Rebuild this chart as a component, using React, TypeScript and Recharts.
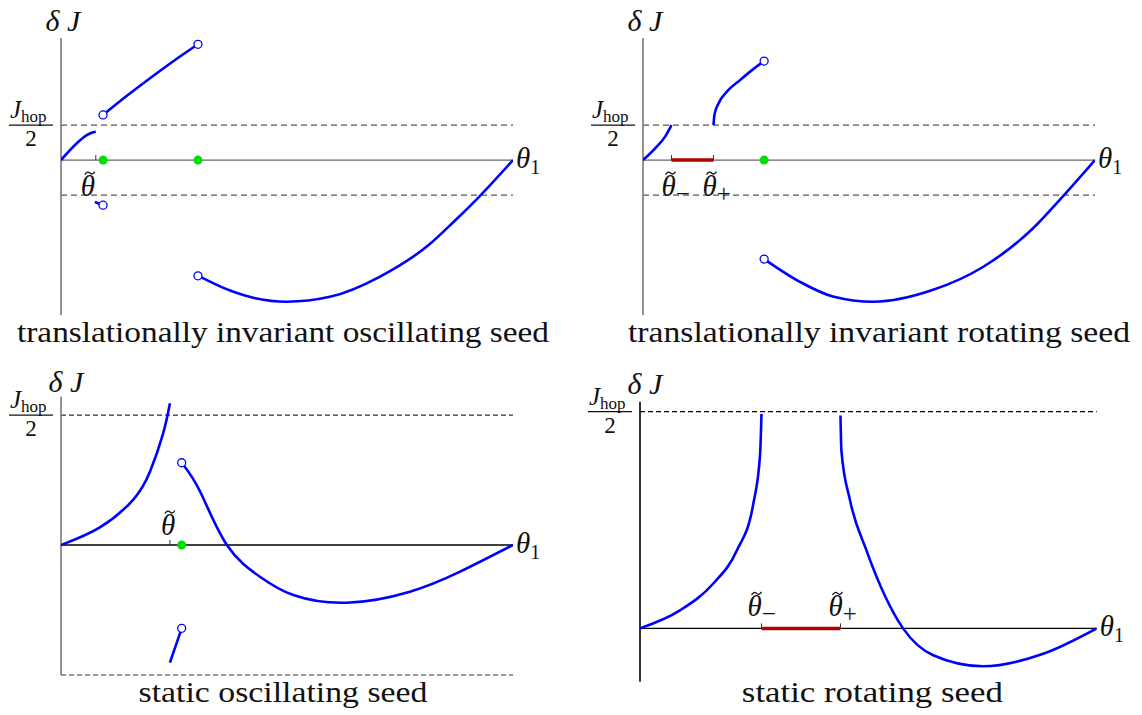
import React from "react";
import { LineChart, Line, XAxis, YAxis, ReferenceLine, ReferenceDot } from "recharts";

type Pt = { x: number; y: number };

// theta_1 runs 0..1 along each horizontal axis, dJ is measured in units of Jhop/2

// translationally invariant oscillating seed
const invOscRise: Pt[] = [
  { x: 0, y: 0 }, { x: 0.035, y: 0.48 }, { x: 0.057, y: 0.71 }, { x: 0.068, y: 0.78 }, { x: 0.077, y: 0.81 },
];
const invOscUpper: Pt[] = [
  { x: 0.093, y: 1.29 }, { x: 0.145, y: 1.83 }, { x: 0.197, y: 2.34 }, { x: 0.25, y: 2.84 }, { x: 0.303, y: 3.31 },
];
const invOscStub: Pt[] = [{ x: 0.075, y: -1.2 }, { x: 0.093, y: -1.29 }];
const invOscLower: Pt[] = [
  { x: 0.304, y: -3.31 }, { x: 0.374, y: -3.73 }, { x: 0.43, y: -3.95 }, { x: 0.499, y: -4.05 },
  { x: 0.595, y: -3.91 }, { x: 0.706, y: -3.33 }, { x: 0.816, y: -2.4 }, { x: 0.87, y: -1.75 },
  { x: 0.925, y: -1.05 }, { x: 1, y: 0 },
];
const invOscOpen: Pt[] = [
  { x: 0.093, y: 1.29 }, { x: 0.303, y: 3.31 }, { x: 0.093, y: -1.29 }, { x: 0.303, y: -3.31 },
];
const invOscFixed: Pt[] = [{ x: 0.093, y: 0 }, { x: 0.303, y: 0 }];
const invOscTilde = [0.077];

// translationally invariant rotating seed
const invRotRise: Pt[] = [{ x: 0, y: 0 }, { x: 0.03, y: 0.38 }, { x: 0.049, y: 0.67 }, { x: 0.063, y: 1.0 }];
const invRotUpper: Pt[] = [
  { x: 0.156, y: 1.0 }, { x: 0.158, y: 1.29 }, { x: 0.167, y: 1.62 }, { x: 0.185, y: 1.95 },
  { x: 0.215, y: 2.29 }, { x: 0.244, y: 2.6 }, { x: 0.268, y: 2.83 },
];
const invRotLower: Pt[] = [
  { x: 0.268, y: -2.83 }, { x: 0.347, y: -3.48 }, { x: 0.42, y: -3.9 }, { x: 0.51, y: -4.05 },
  { x: 0.642, y: -3.71 }, { x: 0.753, y: -3.05 }, { x: 0.863, y: -1.95 }, { x: 0.926, y: -1.08 }, { x: 1, y: 0 },
];
const invRotOpen: Pt[] = [{ x: 0.268, y: 2.83 }, { x: 0.268, y: -2.83 }];
const invRotFixed: Pt[] = [{ x: 0.268, y: 0 }];
const invRotGap = [0.063, 0.156];

// static oscillating seed
const statOscRise: Pt[] = [
  { x: 0, y: 0 }, { x: 0.086, y: 0.135 }, { x: 0.16, y: 0.35 }, { x: 0.197, y: 0.565 },
  { x: 0.226, y: 0.859 }, { x: 0.241, y: 1.09 },
];
const statOscUpper: Pt[] = [
  { x: 0.267, y: 0.633 }, { x: 0.308, y: 0.41 }, { x: 0.367, y: 0 }, { x: 0.44, y: -0.244 },
  { x: 0.514, y: -0.385 }, { x: 0.632, y: -0.444 }, { x: 0.772, y: -0.359 }, { x: 0.883, y: -0.205 }, { x: 1, y: 0 },
];
const statOscStub: Pt[] = [{ x: 0.241, y: -0.905 }, { x: 0.267, y: -0.641 }];
const statOscOpen: Pt[] = [{ x: 0.267, y: 0.633 }, { x: 0.267, y: -0.641 }];
const statOscFixed: Pt[] = [{ x: 0.267, y: 0 }];
const statOscTilde = [0.241];

// static rotating seed
const statRotRise: Pt[] = [
  { x: 0, y: 0 }, { x: 0.0875, y: 0.083 }, { x: 0.16, y: 0.206 }, { x: 0.212, y: 0.359 },
  { x: 0.248, y: 0.574 }, { x: 0.263, y: 0.805 }, { x: 0.266, y: 0.989 },
];
const statRotFall: Pt[] = [
  { x: 0.439, y: 0.982 }, { x: 0.441, y: 0.82 }, { x: 0.46, y: 0.59 }, { x: 0.496, y: 0.359 },
  { x: 0.576, y: 0 }, { x: 0.642, y: -0.124 }, { x: 0.751, y: -0.175 }, { x: 0.883, y: -0.117 }, { x: 1, y: 0 },
];
const statRotGap = [0.266, 0.439];

const captions = [
  "translationally invariant oscillating seed",
  "translationally invariant rotating seed",
  "static oscillating seed",
  "static rotating seed",
];

const serif = "'Liberation Serif', 'DejaVu Serif', serif";
const ink = "#111";
const blue = "#0000ff";

const DeltaJ = ({ cx, cy, dx, dy }: any) => (
  <text x={cx + dx} y={cy + dy} textAnchor="middle" fontFamily={serif} fontStyle="italic" fontSize={30} fill={ink}>
    δ J
  </text>
);

const HopHalf = ({ cx, cy }: any) => (
  <g fontFamily={serif} fill={ink}>
    <text x={cx - 51} y={cy - 7} fontSize={25} fontStyle="italic">
      J<tspan dy={4} fontSize={17} fontStyle="normal">hop</tspan>
    </text>
    <line x1={cx - 52} x2={cx - 8} y1={cy} y2={cy} stroke={ink} strokeWidth={1.2} />
    <text x={cx - 30} y={cy + 21} fontSize={23} textAnchor="middle">2</text>
  </g>
);

const ThetaOne = ({ cx, cy }: any) => (
  <text x={cx + 3} y={cy + 8} fontFamily={serif} fill={ink} fontSize={29} fontStyle="italic">
    θ<tspan dy={6} fontSize={20} fontStyle="normal">1</tspan>
  </text>
);

// theta with a drawn tilde accent and an optional subscript
const ThetaTilde = ({ cx, cy, dx, dy, sub }: any) => {
  const mx = cx + dx + 2;
  const my = cy + dy - 23;
  return (
    <g>
      <path
        d={`M ${mx - 5} ${my + 1.5} Q ${mx - 2.5} ${my - 2.5} ${mx} ${my} T ${mx + 5} ${my - 1.5}`}
        fill="none" stroke={ink} strokeWidth={1.3}
      />
      <text x={cx + dx - 7} y={cy + dy} fontFamily={serif} fill={ink} fontSize={29} fontStyle="italic">
        θ{sub ? <tspan dy={6} fontSize={25} fontStyle="normal">{sub}</tspan> : null}
      </text>
    </g>
  );
};

const Tick = ({ cx, cy }: any) => <line x1={cx} x2={cx} y1={cy} y2={cy - 5} stroke="#333" strokeWidth={1} />;

const Caption = ({ cx, cy, dx, dy, text, len }: any) => (
  <text
    x={cx + dx} y={cy + dy} textAnchor="middle" fontFamily={serif} fontSize={30} fill={ink}
    textLength={len} lengthAdjust="spacingAndGlyphs"
  >
    {text}
  </text>
);

const panels = [
  {
    left: 0, top: 0, width: 571, height: 350,
    margin: { top: 38, right: 58, bottom: 35, left: 61 },
    yDomain: [-4.43, 3.49],
    branches: [
      { pts: invOscRise, curve: "monotone" }, { pts: invOscUpper, curve: "natural" },
      { pts: invOscStub, curve: "linear" }, { pts: invOscLower, curve: "monotone" },
    ],
    open: invOscOpen, fixed: invOscFixed, gap: null as number[] | null,
    tildes: [{ x: invOscTilde[0], sub: "", dx: -8, dy: 36 }],
    dashed: [1, -1],
    caption: captions[0], captionDx: -4, captionDy: 27, captionLen: 532,
    axisY: "#777", axisX: "#666", dash: "#555", dashArray: "6 4",
    delta: { dx: 2, dy: -7 },
  },
  {
    left: 582, top: 0, width: 571, height: 350,
    margin: { top: 38, right: 58, bottom: 35, left: 61 },
    yDomain: [-4.43, 3.49],
    branches: [
      { pts: invRotRise, curve: "monotone" }, { pts: invRotUpper, curve: "monotone" },
      { pts: invRotLower, curve: "monotone" },
    ],
    open: invRotOpen, fixed: invRotFixed, gap: invRotGap,
    tildes: [
      { x: invRotGap[0], sub: "−", dx: -3, dy: 36 },
      { x: invRotGap[1], sub: "+", dx: -4, dy: 36 },
    ],
    dashed: [1, -1],
    caption: captions[1], captionDx: 10, captionDy: 27, captionLen: 502,
    axisY: "#777", axisX: "#666", dash: "#555", dashArray: "6 4",
    delta: { dx: 2, dy: -7 },
  },
  {
    left: 0, top: 360, width: 571, height: 350,
    margin: { top: 36.7, right: 58, bottom: 35, left: 61 },
    yDomain: [-1, 1.141],
    branches: [
      { pts: statOscRise, curve: "natural" }, { pts: statOscUpper, curve: "natural" },
      { pts: statOscStub, curve: "linear" },
    ],
    open: statOscOpen, fixed: statOscFixed, gap: null as number[] | null,
    tildes: [{ x: statOscTilde[0], sub: "", dx: -2, dy: -10 }],
    dashed: [1, -1],
    caption: captions[2], captionDx: -4, captionDy: 27, captionLen: 289,
    axisY: "#777", axisX: "#000", dash: "#333", dashArray: "5 3",
    delta: { dx: 5, dy: -5 },
  },
  {
    left: 579, top: 360, width: 571, height: 350,
    margin: { top: 41.7, right: 53.3, bottom: 28.3, left: 61 },
    yDomain: [-0.246, 1.046],
    branches: [{ pts: statRotRise, curve: "monotone" }, { pts: statRotFall, curve: "monotone" }],
    open: [] as Pt[], fixed: [] as Pt[], gap: statRotGap,
    tildes: [
      { x: statRotGap[0], sub: "−", dx: -7, dy: -12 },
      { x: statRotGap[1], sub: "+", dx: -5, dy: -12 },
    ],
    dashed: [1],
    caption: captions[3], captionDx: 4, captionDy: 20, captionLen: 261,
    axisY: "#000", axisX: "#000", dash: "#000", dashArray: "5 3",
    delta: { dx: 5, dy: -8 },
  },
];

function Panel({ p }: { p: (typeof panels)[number] }) {
  const yTop = p.yDomain[1];
  const yBottom = p.yDomain[0];
  return (
    <div style={{ position: "absolute", left: p.left, top: p.top }}>
      <LineChart width={p.width} height={p.height} margin={p.margin}>
        <XAxis type="number" dataKey="x" domain={[0, 1]} hide allowDataOverflow />
        <YAxis type="number" domain={p.yDomain} hide allowDataOverflow />
        {p.dashed.map((v) => (
          <ReferenceLine key={"d" + v} y={v} stroke={p.dash} strokeWidth={1.2} strokeDasharray={p.dashArray} />
        ))}
        <ReferenceLine x={0} stroke={p.axisY} strokeWidth={1.6} />
        <ReferenceLine y={0} stroke={p.axisX} strokeWidth={1.3} />
        {p.gap ? (
          <Line
            data={[{ x: p.gap[0], y: 0 }, { x: p.gap[1], y: 0 }]}
            dataKey="y" type="linear" stroke="#b00000" strokeWidth={3.5}
            dot={false} activeDot={false} isAnimationActive={false}
          />
        ) : null}
        {p.branches.map((b, i) => (
          <Line
            key={"b" + i} data={b.pts} dataKey="y" type={b.curve as any}
            stroke={blue} strokeWidth={2.6} dot={false} activeDot={false} isAnimationActive={false}
          />
        ))}
        {p.tildes.map((t, i) => (
          <ReferenceDot key={"t" + i} x={t.x} y={0} ifOverflow="visible" shape={(s: any) => <Tick cx={s.cx} cy={s.cy} />} />
        ))}
        {p.tildes.map((t, i) => (
          <ReferenceDot key={"tl" + i} x={t.x} y={0} ifOverflow="visible"
            shape={(s: any) => <ThetaTilde cx={s.cx} cy={s.cy} dx={t.dx} dy={t.dy} sub={t.sub} />} />
        ))}
        {p.fixed.map((d, i) => (
          <ReferenceDot key={"g" + i} x={d.x} y={d.y} r={4.5} fill="#00e000" stroke="none" ifOverflow="visible" />
        ))}
        {p.open.map((d, i) => (
          <ReferenceDot key={"o" + i} x={d.x} y={d.y} r={4} fill="#fff" stroke={blue} strokeWidth={1.3} ifOverflow="visible" />
        ))}
        <ReferenceDot x={0} y={yTop} ifOverflow="visible"
          shape={(s: any) => <DeltaJ cx={s.cx} cy={s.cy} dx={p.delta.dx} dy={p.delta.dy} />} />
        <ReferenceDot x={0} y={1} ifOverflow="visible" shape={(s: any) => <HopHalf cx={s.cx} cy={s.cy} />} />
        <ReferenceDot x={1} y={0} ifOverflow="visible" shape={(s: any) => <ThetaOne cx={s.cx} cy={s.cy} />} />
        <ReferenceDot x={0.5} y={yBottom} ifOverflow="visible"
          shape={(s: any) => (
            <Caption cx={s.cx} cy={s.cy} dx={p.captionDx} dy={p.captionDy} text={p.caption} len={p.captionLen} />
          )} />
      </LineChart>
    </div>
  );
}

export default function App() {
  return (
    <div style={{ position: "absolute", left: 0, top: 0, width: 1142, height: 715, background: "#fff" }}>
      {panels.map((p, i) => (
        <Panel key={i} p={p} />
      ))}
    </div>
  );
}
